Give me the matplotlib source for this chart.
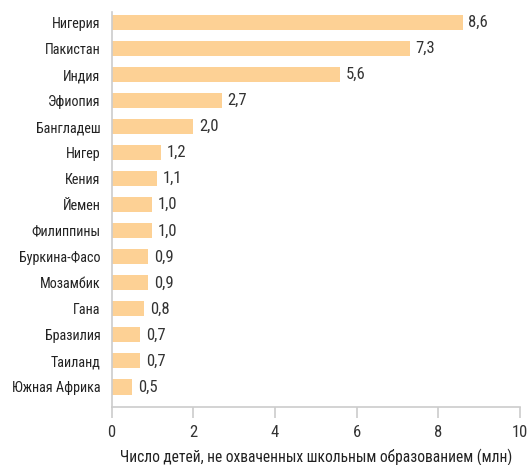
import matplotlib
matplotlib.use('Agg')
import matplotlib.pyplot as plt

countries = ['Нигерия', 'Пакистан', 'Индия', 'Эфиопия', 'Бангладеш', 'Нигер', 'Кения',
             'Йемен', 'Филиппины', 'Буркина-Фасо', 'Мозамбик', 'Гана', 'Бразилия',
             'Таиланд', 'Южная Африка']
out_of_school = [8.6, 7.3, 5.6, 2.7, 2.0, 1.2, 1.1, 1.0, 1.0, 0.9, 0.9, 0.8, 0.7, 0.7, 0.5]
xticks = [0, 2, 4, 6, 8, 10]

plt.rcParams['font.family'] = ['Roboto Condensed', 'Open Sans Condensed', 'Roboto', 'DejaVu Sans']
text_color = '#333333'
axis_color = '#cccccc'

fig = plt.figure(figsize=(5.28, 4.65), dpi=100)
ax = fig.add_axes([0.2115, 0.1247, 0.773, 0.849])

ypos = list(range(len(countries)))
ax.barh(ypos, out_of_school, height=0.58, color='#fdd195')
for y, v in zip(ypos, out_of_school):
    ax.text(v + 0.14, y, f'{v:.1f}'.replace('.', ','), va='center', ha='left',
            fontsize=12, color=text_color)

ax.set_yticks(ypos)
ax.set_yticklabels(countries, fontsize=10.2, color='#222222')
ax.set_ylim(14.77, -0.4)
ax.set_xlim(0, 10)
ax.set_xticks(xticks)
ax.set_xticklabels([str(t) for t in xticks], fontsize=12, color=text_color)
ax.set_xlabel('Число детей, не охваченных школьным образованием (млн)',
              fontsize=11.2, color='#222222', labelpad=6)

for s in ['top', 'right']:
    ax.spines[s].set_visible(False)
for s in ['left', 'bottom']:
    ax.spines[s].set_color(axis_color)
    ax.spines[s].set_linewidth(1.2)
ax.tick_params(axis='y', length=0, pad=8)
ax.tick_params(axis='x', length=8, width=1.2, color=axis_color, pad=5)

fig.savefig('out.png', dpi=100)
